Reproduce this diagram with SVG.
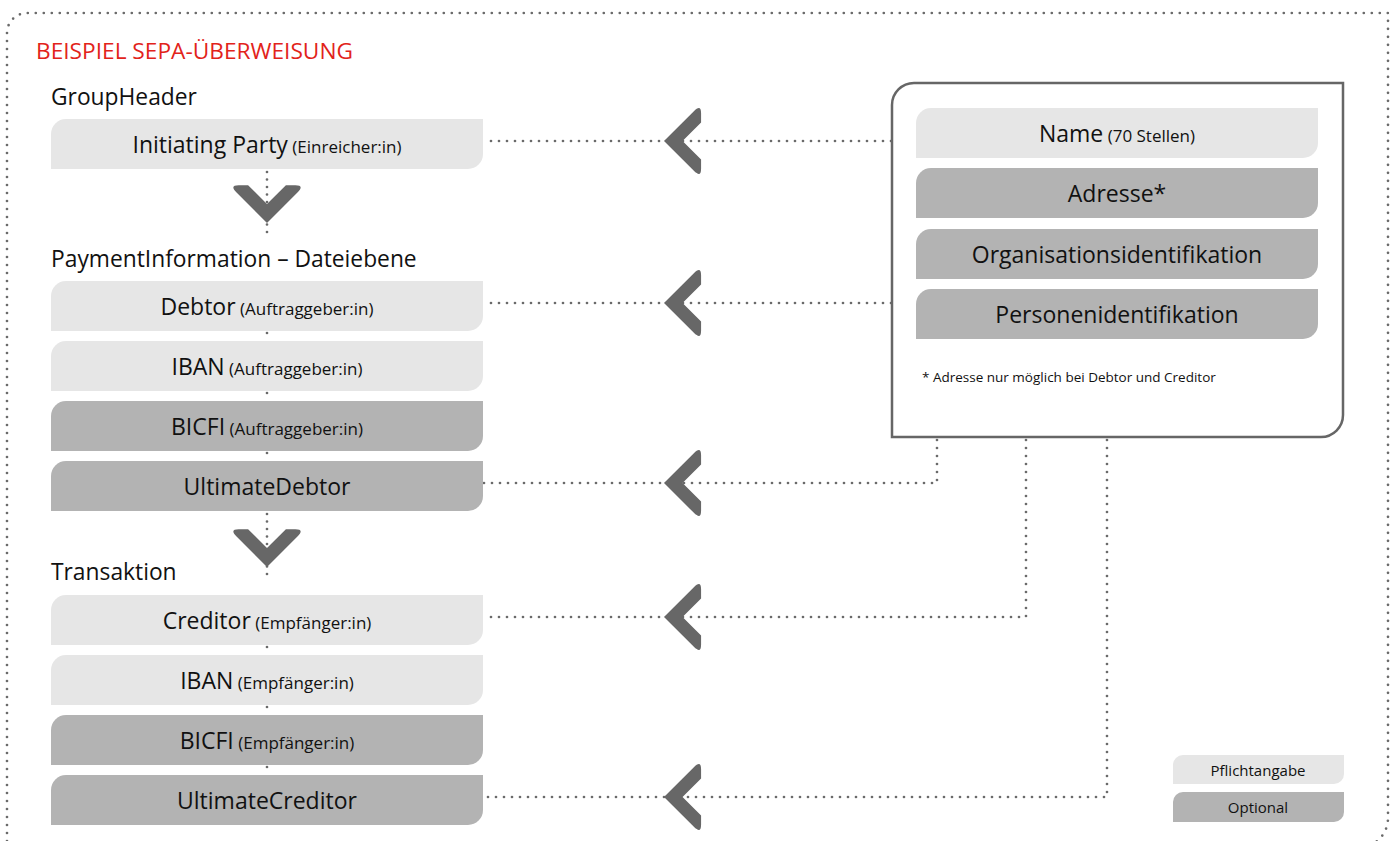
<svg xmlns="http://www.w3.org/2000/svg" width="1397" height="841" viewBox="0 0 1397 841">
<style>
.bg{fill:#ffffff}
.req{fill:#e6e6e6}
.opt{fill:#b3b3b3}
.dot{fill:none;stroke:#6a6a6a;stroke-width:2.7;stroke-linecap:round;stroke-dasharray:0 8}
.vdot{fill:none;stroke:#6a6a6a;stroke-width:2.7;stroke-linecap:round;stroke-dasharray:0 7.5}
.chev{fill:#676767}
.t{font-family:"Open Sans","Liberation Sans",sans-serif;fill:#111111}
.lbl{font-size:23px;text-anchor:middle}
.sm{font-size:17px}
.head{font-size:22.8px}
.title{font-family:"Open Sans","Liberation Sans",sans-serif;font-size:22.7px;fill:#e2231a}
.note{font-size:13.5px}
.leg{font-size:15px;text-anchor:middle}
.panel{fill:#ffffff;stroke:#666666;stroke-width:2.5}
</style>
<defs>
<path id="chev" d="M0,0 L29,-29 Q36,-36 36,-27 L36,-18 L18,0 L36,18 L36,27 Q36,36 29,29 Z"/>
</defs>
<rect class="bg" x="0" y="0" width="1397" height="841"/>
<g id="frame">
<path class="dot" d="M7,841 L7,33 A20,20 0 0 1 27,13 L1388,13 L1388,818 A30,30 0 0 1 1358,848"/>
<text class="title" x="36" y="59">BEISPIEL SEPA-ÜBERWEISUNG</text>
<text class="t head" x="51" y="105">GroupHeader</text>
<text class="t head" x="51" y="267">PaymentInformation – Dateiebene</text>
<text class="t head" x="51" y="580">Transaktion</text>
</g>
<g id="connectors">
<path class="vdot" d="M267,172 L267,236"/>
<path class="vdot" d="M267,514 L267,578"/>
<path class="vdot" d="M267,333 L267,339"/>
<path class="vdot" d="M267,393 L267,399"/>
<path class="vdot" d="M267,453 L267,459"/>
<path class="vdot" d="M267,647 L267,653"/>
<path class="vdot" d="M267,707 L267,713"/>
<path class="vdot" d="M267,767 L267,773"/>
<path class="dot" d="M891,141 L483,141"/>
<path class="dot" d="M891,303 L483,303"/>
<path class="dot" d="M937,440 L937,483 L483,483"/>
<path class="dot" d="M1026,440 L1026,617 L483,617"/>
<path class="dot" d="M1107,440 L1107,797 L483,797"/>
<use href="#chev" class="chev" transform="translate(267,223) rotate(-90) scale(1.05)"/>
<use href="#chev" class="chev" transform="translate(267,567) rotate(-90) scale(1.05)"/>
<use href="#chev" class="chev" transform="translate(664,141) scale(1.03)"/>
<use href="#chev" class="chev" transform="translate(664,303) scale(1.03)"/>
<use href="#chev" class="chev" transform="translate(664,483) scale(1.03)"/>
<use href="#chev" class="chev" transform="translate(664,617) scale(1.03)"/>
<use href="#chev" class="chev" transform="translate(664,797) scale(1.03)"/>
</g>
<g id="initiating-party">
<path class="req" d="M51,169 L51,134 A15,15 0 0 1 66,119 L483,119 L483,154 A15,15 0 0 1 468,169 Z"/>
<text class="t lbl" x="267" y="153">Initiating Party<tspan class="sm"> (Einreicher:in)</tspan></text>
</g>
<g id="debtor">
<path class="req" d="M51,331 L51,296 A15,15 0 0 1 66,281 L483,281 L483,316 A15,15 0 0 1 468,331 Z"/>
<text class="t lbl" x="267" y="315">Debtor<tspan class="sm"> (Auftraggeber:in)</tspan></text>
</g>
<g id="iban-debtor">
<path class="req" d="M51,391 L51,356 A15,15 0 0 1 66,341 L483,341 L483,376 A15,15 0 0 1 468,391 Z"/>
<text class="t lbl" x="267" y="375">IBAN<tspan class="sm"> (Auftraggeber:in)</tspan></text>
</g>
<g id="bicfi-debtor">
<path class="opt" d="M51,451 L51,416 A15,15 0 0 1 66,401 L483,401 L483,436 A15,15 0 0 1 468,451 Z"/>
<text class="t lbl" x="267" y="435">BICFI<tspan class="sm"> (Auftraggeber:in)</tspan></text>
</g>
<g id="ultimate-debtor">
<path class="opt" d="M51,511 L51,476 A15,15 0 0 1 66,461 L483,461 L483,496 A15,15 0 0 1 468,511 Z"/>
<text class="t lbl" x="267" y="495">UltimateDebtor</text>
</g>
<g id="creditor">
<path class="req" d="M51,645 L51,610 A15,15 0 0 1 66,595 L483,595 L483,630 A15,15 0 0 1 468,645 Z"/>
<text class="t lbl" x="267" y="629">Creditor<tspan class="sm"> (Empfänger:in)</tspan></text>
</g>
<g id="iban-creditor">
<path class="req" d="M51,705 L51,670 A15,15 0 0 1 66,655 L483,655 L483,690 A15,15 0 0 1 468,705 Z"/>
<text class="t lbl" x="267" y="689">IBAN<tspan class="sm"> (Empfänger:in)</tspan></text>
</g>
<g id="bicfi-creditor">
<path class="opt" d="M51,765 L51,730 A15,15 0 0 1 66,715 L483,715 L483,750 A15,15 0 0 1 468,765 Z"/>
<text class="t lbl" x="267" y="749">BICFI<tspan class="sm"> (Empfänger:in)</tspan></text>
</g>
<g id="ultimate-creditor">
<path class="opt" d="M51,825 L51,790 A15,15 0 0 1 66,775 L483,775 L483,810 A15,15 0 0 1 468,825 Z"/>
<text class="t lbl" x="267" y="809">UltimateCreditor</text>
</g>
<g id="party-details">
<path class="panel" d="M892,437 L892,105 A22,22 0 0 1 914,83 L1343,83 L1343,415 A22,22 0 0 1 1321,437 Z"/>
<path class="req" d="M916,158 L916,123 A15,15 0 0 1 931,108 L1318,108 L1318,143 A15,15 0 0 1 1303,158 Z"/>
<text class="t lbl" x="1117" y="142">Name<tspan class="sm"> (70 Stellen)</tspan></text>
<path class="opt" d="M916,218 L916,183 A15,15 0 0 1 931,168 L1318,168 L1318,203 A15,15 0 0 1 1303,218 Z"/>
<text class="t lbl" x="1117" y="202">Adresse*</text>
<path class="opt" d="M916,279 L916,244 A15,15 0 0 1 931,229 L1318,229 L1318,264 A15,15 0 0 1 1303,279 Z"/>
<text class="t lbl" x="1117" y="263">Organisationsidentifikation</text>
<path class="opt" d="M916,339 L916,304 A15,15 0 0 1 931,289 L1318,289 L1318,324 A15,15 0 0 1 1303,339 Z"/>
<text class="t lbl" x="1117" y="323">Personenidentifikation</text>
<text class="t note" x="922" y="382">* Adresse nur möglich bei Debtor und Creditor</text>
</g>
<g id="legend-pflicht">
<path class="req" d="M1173,784 L1173,765 A10,10 0 0 1 1183,755 L1344,755 L1344,774 A10,10 0 0 1 1334,784 Z"/>
<text class="t leg" x="1258" y="776">Pflichtangabe</text>
</g>
<g id="legend-optional">
<path class="opt" d="M1173,822 L1173,802 A10,10 0 0 1 1183,792 L1344,792 L1344,812 A10,10 0 0 1 1334,822 Z"/>
<text class="t leg" x="1258" y="813">Optional</text>
</g>
</svg>
